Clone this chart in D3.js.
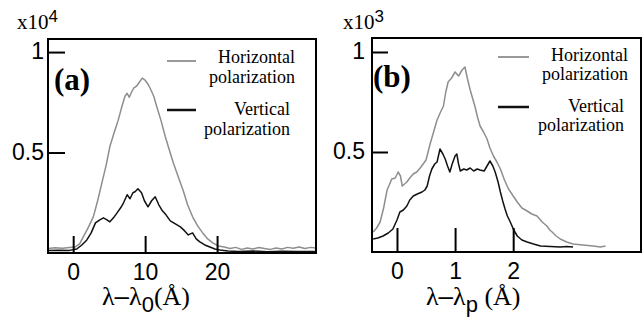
<!DOCTYPE html>
<html>
<head>
<meta charset="utf-8">
<script src="https://cdn.jsdelivr.net/npm/d3@7"></script>
<style>
	body { margin: 0; background: #fff; }
	svg { display: block; }
	.serif { font-family: "Liberation Serif", "Times New Roman", serif; }
	.sans { font-family: "Liberation Sans", Arial, sans-serif; }
</style>
</head>
<body>
<div id="chart"></div>
<script>

// panel (a): x = lambda - lambda0 (A), y in units of 1e4
var aTicksX = [0, 10, 20];
var aTicksY = [0.5, 1];
var aHorizontal = [
	[-3.5,0.022],[-2.5,0.026],[-1.5,0.024],[-0.5,0.027],[0.3,0.03],[0.9,0.045],[1.4,0.08],[2.0,0.12],
	[2.8,0.18],[3.4,0.26],[4.0,0.35],[4.6,0.44],[5.1,0.53],[5.7,0.6],[6.25,0.66],[6.7,0.72],[7.2,0.78],
	[7.5,0.795],[7.8,0.775],[8.1,0.8],[8.4,0.82],[8.8,0.83],[9.2,0.85],[9.6,0.87],[10.0,0.86],[10.4,0.84],
	[10.7,0.82],[11.2,0.78],[11.6,0.73],[12.2,0.66],[12.8,0.58],[13.3,0.52],[13.9,0.45],[14.6,0.38],
	[15.3,0.31],[15.9,0.24],[16.6,0.18],[17.3,0.135],[18.0,0.1],[18.7,0.07],[19.4,0.05],[20.2,0.035],
	[21.0,0.03],[21.8,0.022],[22.6,0.028],[23.4,0.018],[24.2,0.025],[25,0.02],[25.8,0.027],[26.6,0.022],
	[27.4,0.018],[28.2,0.025],[29,0.02],[29.8,0.028],[30.6,0.024],[31.4,0.03],[32.2,0.022],[33,0.028],[33.7,0.025]
];
var aVertical = [
	[-3.5,0.012],[-2,0.014],[-0.5,0.013],[0.5,0.02],[1.2,0.04],[1.9,0.065],[2.5,0.1],[3.1,0.15],[3.7,0.165],
	[4.2,0.175],[4.7,0.165],[5.1,0.155],[5.6,0.175],[6.1,0.2],[6.6,0.225],[7.0,0.25],[7.5,0.29],[7.9,0.27],
	[8.3,0.3],[8.6,0.305],[9.0,0.32],[9.5,0.3],[9.9,0.26],[10.4,0.23],[10.9,0.26],[11.4,0.28],[11.9,0.24],
	[12.4,0.21],[12.9,0.19],[13.5,0.16],[14.2,0.145],[14.9,0.13],[15.5,0.11],[16.0,0.09],[16.6,0.1],
	[17.1,0.07],[17.6,0.055],[18.3,0.04],[19.0,0.03],[19.7,0.02],[20.4,0.015],[21.5,0.01],[23,0.008],
	[25,0.01],[27,0.006],[29,0.009],[31,0.007],[33.7,0.008]
];

// panel (b): x = lambda - lambdap (A), y in units of 1e3
var bTicksX = [0, 1, 2];
var bTicksY = [0.5, 1];
var bHorizontal = [
	[-0.41,0.1],[-0.35,0.12],[-0.29,0.15],[-0.23,0.22],[-0.17,0.31],[-0.09,0.365],[-0.03,0.37],[0.02,0.4],
	[0.06,0.38],[0.09,0.33],[0.13,0.34],[0.17,0.35],[0.22,0.37],[0.28,0.39],[0.34,0.4],[0.4,0.42],
	[0.45,0.44],[0.5,0.46],[0.57,0.54],[0.63,0.6],[0.69,0.66],[0.75,0.7],[0.8,0.73],[0.84,0.8],[0.88,0.85],
	[0.94,0.87],[1.0,0.9],[1.06,0.88],[1.12,0.91],[1.17,0.925],[1.21,0.87],[1.26,0.81],[1.3,0.77],
	[1.34,0.73],[1.39,0.67],[1.43,0.63],[1.49,0.6],[1.55,0.565],[1.6,0.52],[1.66,0.48],[1.72,0.45],
	[1.78,0.415],[1.85,0.36],[1.92,0.315],[2.0,0.28],[2.07,0.25],[2.15,0.22],[2.24,0.205],[2.32,0.19],
	[2.41,0.18],[2.5,0.15],[2.58,0.13],[2.63,0.11],[2.67,0.1],[2.74,0.08],[2.81,0.065],[2.92,0.05],
	[3.03,0.04],[3.2,0.035],[3.38,0.03],[3.5,0.025],[3.59,0.03]
];
var bVertical = [
	[-0.41,0.065],[-0.33,0.07],[-0.24,0.08],[-0.15,0.095],[-0.07,0.115],[0.0,0.16],[0.05,0.2],[0.11,0.21],
	[0.17,0.23],[0.22,0.26],[0.28,0.28],[0.35,0.29],[0.43,0.3],[0.48,0.31],[0.52,0.33],[0.56,0.38],
	[0.6,0.415],[0.65,0.44],[0.69,0.45],[0.74,0.515],[0.79,0.49],[0.83,0.465],[0.87,0.43],[0.91,0.4],
	[0.95,0.44],[1.0,0.48],[1.03,0.49],[1.06,0.44],[1.09,0.405],[1.15,0.415],[1.2,0.41],[1.26,0.42],
	[1.32,0.405],[1.38,0.415],[1.43,0.41],[1.5,0.405],[1.55,0.43],[1.6,0.455],[1.65,0.43],[1.69,0.4],
	[1.74,0.35],[1.78,0.3],[1.82,0.255],[1.86,0.215],[1.9,0.18],[1.95,0.15],[2.01,0.11],[2.07,0.08],
	[2.15,0.06],[2.24,0.05],[2.35,0.04],[2.47,0.03],[2.64,0.028],[2.81,0.025],[2.92,0.027],[3.03,0.025]
];

var seriesNames = ["Horizontal", "Vertical"];
var colors = { Horizontal: "#8e8e8e", Vertical: "#111" };

var svg = d3.select("#chart").append("svg")
	.attr("width", 642)
	.attr("height", 324);

var Panel = function(opts) {
	this.opts = opts;
	this.g = svg.append("g");
	this.x = d3.scaleLinear().domain(opts.xDomain).range([opts.left, opts.right]);
	this.y = d3.scaleLinear().domain(opts.yDomain).range([opts.bottom, opts.top]);
	this.drawLines();
	this.drawAxes();
	this.drawFrame();
	this.drawText();
}

Panel.prototype.drawLines = function() {
	var x = this.x, y = this.y;
	var line = d3.line()
		.x(function(d) { return x(d[0]); })
		.y(function(d) { return y(d[1]); });
	var o = this.opts;
	this.g.selectAll("path.series")
		.data([{ name: "Horizontal", values: o.horizontal }, { name: "Vertical", values: o.vertical }])
		.enter()
		.append("path")
		.attr("class", "series")
		.attr("d", function(d) { return line(d.values); })
		.attr("fill", "none")
		.attr("stroke", function(d) { return colors[d.name]; })
		.attr("stroke-width", 1.5)
		.attr("stroke-linejoin", "round");
}

Panel.prototype.drawAxes = function() {
	var o = this.opts;
	var xAxis = d3.axisBottom(this.x)
		.tickValues(o.ticksX)
		.tickSize(-o.xTickLen)
		.tickPadding(11)
		.tickFormat(d3.format("d"));
	var gx = this.g.append("g")
		.attr("transform", "translate(0," + o.bottom + ")")
		.call(xAxis);

	var yAxis = d3.axisLeft(this.y)
		.tickValues(o.ticksY)
		.tickSize(-o.yTickLen)
		.tickPadding(o.yPad)
		.tickFormat(function(d) { return d === 1 ? "1" : "0.5"; });
	var gy = this.g.append("g")
		.attr("transform", "translate(" + o.left + ",0)")
		.call(yAxis);

	[gx, gy].forEach(function(g) {
		g.select(".domain").remove();
		g.selectAll(".tick line").attr("stroke", "#000").attr("stroke-width", 2);
		g.selectAll(".tick text")
			.attr("class", "sans")
			.attr("fill", "#000")
			.style("font-size", "23px");
	});
	gy.selectAll(".tick text").attr("dy", "0.3em");
}

Panel.prototype.drawFrame = function() {
	var o = this.opts;
	this.g.append("rect")
		.attr("x", o.left)
		.attr("y", o.top)
		.attr("width", o.right - o.left)
		.attr("height", o.bottom - o.top)
		.attr("fill", "none")
		.attr("stroke", "#000")
		.attr("stroke-width", 2);
}

Panel.prototype.drawText = function() {
	var o = this.opts, g = this.g;

	// multiplier at the top left
	var m = g.append("text").attr("x", o.multX).attr("y", 29);
	m.append("tspan").attr("class", "serif").style("font-size", "21px").text("x10");
	m.append("tspan").attr("class", "sans").style("font-size", "17px").attr("dy", -7).text(o.power);

	// panel letter
	g.append("text")
		.attr("class", "serif")
		.attr("x", o.letterX)
		.attr("y", o.letterY)
		.style("font-size", "31px")
		.style("font-weight", "bold")
		.text(o.letter);

	// legend
	var lg = o.legend;
	seriesNames.forEach(function(name, i) {
		g.append("line")
			.attr("x1", lg.lineX[0]).attr("x2", lg.lineX[1])
			.attr("y1", lg.lineY[i]).attr("y2", lg.lineY[i])
			.attr("stroke", colors[name])
			.attr("stroke-width", name === "Vertical" ? 2.5 : 1.8);
		var t = g.append("text")
			.attr("class", "serif")
			.attr("text-anchor", "end")
			.style("font-size", "18px");
		t.append("tspan").attr("x", lg.textX[i]).attr("y", lg.textY[i][0]).text(name);
		t.append("tspan").attr("x", lg.textX[i]).attr("y", lg.textY[i][1]).text("polarization");
	});

	// axis title
	var at = g.append("text").attr("x", o.titleX).attr("y", 305).style("font-size", "26px");
	at.append("tspan").attr("class", "serif").text("λ");
	at.append("tspan").attr("class", "sans").text("–");
	at.append("tspan").attr("class", "serif").text("λ");
	at.append("tspan").attr("class", "sans").style("font-size", "22px").attr("dy", 7).text(o.sub);
	at.append("tspan").attr("class", "serif").attr("dy", -7).text(o.unit);
}

var panelA = new Panel({
	left: 48, right: 316, top: 39, bottom: 253,
	xDomain: [-3.5, 33.75], yDomain: [0, 1.065],
	ticksX: aTicksX, ticksY: aTicksY,
	xTickLen: 17, yTickLen: 17, yPad: 4,
	horizontal: aHorizontal, vertical: aVertical,
	multX: 17, power: "4",
	letter: "(a)", letterX: 54, letterY: 90,
	legend: { lineX: [167, 196], lineY: [61, 110], textX: [295, 290], textY: [[63, 83], [115, 135]] },
	titleX: 102, sub: "0", unit: "(Å)"
});

var panelB = new Panel({
	left: 372, right: 641, top: 38, bottom: 252,
	xDomain: [-0.43, 4.2], yDomain: [0, 1.07],
	ticksX: bTicksX, ticksY: bTicksY,
	xTickLen: 24, yTickLen: 16, yPad: 7,
	horizontal: bHorizontal, vertical: bVertical,
	multX: 343, power: "3",
	letter: "(b)", letterX: 373, letterY: 87,
	legend: { lineX: [498, 529], lineY: [57, 107], textX: [628, 624], textY: [[61, 80], [112, 131]] },
	titleX: 426, sub: "p", unit: " (Å)"
});

</script>
</body>
</html>
